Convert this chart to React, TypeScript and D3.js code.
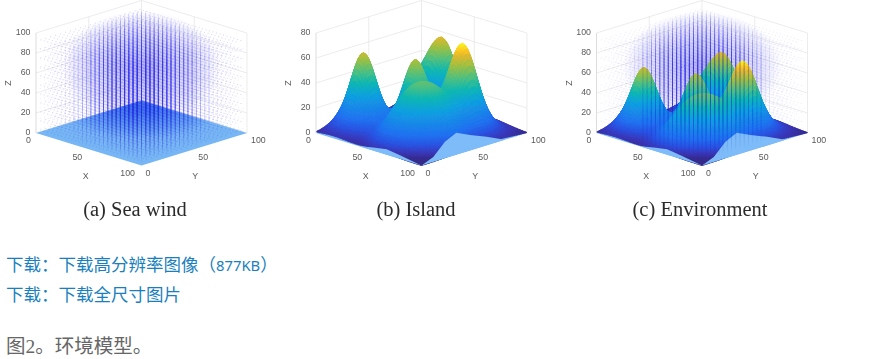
import React from "react";
import * as d3 from "d3";

const zTicksWind = [0, 20, 40, 60, 80, 100];
const zTicksIsland = [0, 20, 40, 60, 80];
const floorTicks = [0, 50, 100];
const captions = ["(a) Sea wind", "(b) Island", "(c) Environment"];
const linkLeads = ["下载：下载高分辨率图像（", "下载：下载全尺寸图片"];
const linkSize = ["877KB", ""];
const linkTail = ["）", ""];
const figureNote = "图2。环境模型。";

// APPROXIMATION: the source surface cannot be read cell by cell. It is modelled here
// as a sum of Gaussian hills whose positions, heights and spreads were estimated
// from panel (b); the surface heights are computed from these, not read directly.
const hillX = [14, 14, 43, 34, 68, 68, 58, 72, 20, 20];
const hillY = [31, 31, 51, 88, 71, 71, 28, 42, 22, 82];
const hillH = [46, 11, 50, 50, 58, 11, 33, 33, 4, 30];
const hillSX = [8, 15, 8, 9, 9, 17, 12, 12, 12, 10];
const hillSY = [8, 15, 8, 9, 9.5, 17, 12, 12, 12, 10];

const terrainAxis = d3.range(0, 100.01, 1.25);

// Bare sea patches in front of the island, floor coordinates
const seaRight = [[100, 0], [92.6, 18.6], [74.6, 47.6], [66, 67], [76, 70], [86.7, 75.1], [100, 79]];
const seaLeft = [[41, 0], [49.5, 4.8], [58.5, 8.5], [74.2, 5.4], [100, 0]];

// APPROXIMATION: individual wind vectors are unreadable in the source. This is a
// regular illustrative lattice; ring lengths and alphas only mimic its density,
// and the soft glow ellipses below stand in for the massed overlap of the arrows.
const windColumns = d3.range(2, 100, 4);
const windLevels = [4, 14, 24, 34, 44, 54, 64, 74, 84];
const windRingLength = [10, 10, 10, 9.5, 8.5, 7, 4.5, 2.5, 1.2, 0.8, 0.8];
const windRingAlpha = [0.14, 0.14, 0.13, 0.12, 0.12, 0.11, 0.11, 0.11, 0.11, 0.11, 0.11];
const dotX = d3.range(1.5, 100, 3.3);
const dotY = d3.range(3, 100, 4.7);
const dotLevels = [2, 11, 20, 29, 38, 47, 56, 65, 74, 83, 92];

const parulaZ = [0, 2, 6, 12, 28, 38, 46, 55, 62, 66, 70];
const parulaC = ["#352a87", "#3a35b5", "#2a50e0", "#2070f0", "#10a0e0", "#10b8b0", "#50c080", "#a0c040", "#e0b830", "#ffc820", "#f8f020"];
const parula = d3.scaleLinear<string>().domain(parulaZ).range(parulaC).clamp(true);

const height = (x: number, y: number) =>
  d3.sum(hillH, (h, i) => {
    const a = (x - hillX[i]) / hillSX[i];
    const b = (y - hillY[i]) / hillSY[i];
    return h * Math.exp(-0.5 * (a * a + b * b));
  });

type P = { id: string; left: number; zMax: number; zTicks: number[]; island: boolean; wind: boolean; caption: string; capX: number; windScale: number };
const panels: P[] = [
  { id: "a", left: 36, zMax: 100, zTicks: zTicksWind, island: false, wind: true, caption: captions[0], capX: 135, windScale: 1 },
  { id: "b", left: 316, zMax: 80, zTicks: zTicksIsland, island: true, wind: false, caption: captions[1], capX: 416, windScale: 0 },
  { id: "c", left: 596.5, zMax: 100, zTicks: zTicksWind, island: true, wind: true, caption: captions[2], capX: 700, windScale: 0.55 },
];

const DX = 105.5, DY = 32.5, Y0 = 133, ZH = 100;

function Panel({ p }: { p: P }) {
  const sx = d3.scaleLinear().domain([0, 200]).range([p.left, p.left + 2 * DX]);
  const sy = d3.scaleLinear().domain([-100, 100]).range([Y0 - DY, Y0 + DY]);
  const sz = d3.scaleLinear().domain([0, p.zMax]).range([0, ZH]);
  const pr = (x: number, y: number, z: number): [number, number] => [sx(x + y), sy(x - y) - sz(z)];
  const poly = (pts: [number, number][]) => d3.line()(pts) + "Z";
  const seg = (pts: [number, number][]) => d3.line()(pts) as string;
  const floor = poly([pr(0, 0, 0), pr(100, 0, 0), pr(100, 100, 0), pr(0, 100, 0)]);

  const grid: string[] = [];
  p.zTicks.forEach((z) => {
    if (z > 0) grid.push(seg([pr(0, 0, z), pr(0, 100, z), pr(100, 100, z)]));
  });
  grid.push(seg([pr(0, 50, 0), pr(0, 50, p.zMax)]));
  grid.push(seg([pr(50, 100, 0), pr(50, 100, p.zMax)]));
  grid.push(seg([pr(0, 100, 0), pr(0, 100, p.zMax)]));
  grid.push(seg([pr(100, 100, 0), pr(100, 100, p.zMax)]));
  grid.push(seg([pr(0, 100, 0), pr(0, 0, 0)]));
  grid.push(seg([pr(0, 100, 0), pr(100, 100, 0)]));

  const quads: { d: string; c: string; k: number }[] = [];
  if (p.island) {
    for (let i = 0; i < terrainAxis.length - 1; i++) {
      for (let j = 0; j < terrainAxis.length - 1; j++) {
        const [x0, x1] = [terrainAxis[i], terrainAxis[i + 1]];
        const [y0, y1] = [terrainAxis[j], terrainAxis[j + 1]];
        const zs = [height(x0, y0), height(x1, y0), height(x1, y1), height(x0, y1)];
        quads.push({
          d: poly([pr(x0, y0, zs[0]), pr(x1, y0, zs[1]), pr(x1, y1, zs[2]), pr(x0, y1, zs[3])]),
          c: parula(d3.mean(zs) as number),
          k: x0 - y0,
        });
      }
    }
    quads.sort((a, b) => a.k - b.k);
  }

  const ringOf = (x: number, y: number) =>
    Math.min(10, Math.floor(Math.hypot((x + y - 100) / 1.41, (x - y) / 3.2) / 6));

  const stems = (alphaScale: number, maxRing: number) =>
    windColumns.flatMap((x) =>
      windColumns.map((y) => {
        const ring = ringOf(x, y);
        if (ring > maxRing) return null;
        const d = windLevels.map((z) => seg([pr(x, y, z), pr(x, y, z + windRingLength[ring])])).join("");
        return <path key={`s${x}-${y}`} d={d} stroke="#2a2af0" strokeWidth={0.85} strokeOpacity={windRingAlpha[ring] * alphaScale} fill="none" />;
      })
    );

  const dots = (alphaScale: number) =>
    dotX.map((x) => {
      const d = dotY
        .flatMap((y) => dotLevels.map((z) => seg([pr(x, y, z), pr(x, y, z + 1.1)])))
        .join("");
      return <path key={`d${x}`} d={d} stroke="#2a22d8" strokeWidth={0.8} strokeOpacity={0.2 * alphaScale} fill="none" />;
    });

  const hazeCentre = pr(50, 50, 66);
  const backFloor = pr(25, 75, 0);

  return (
    <g fontFamily="'Liberation Sans', Arial, sans-serif" fontSize={8.8} fill="#5a5a5a">
      <defs>
        <radialGradient id={`haze${p.id}`}>
          <stop offset="0" stopColor="#2a22e0" stopOpacity={0.34} />
          <stop offset="0.6" stopColor="#2a22e0" stopOpacity={0.16} />
          <stop offset="1" stopColor="#2a22e0" stopOpacity={0} />
        </radialGradient>
        <radialGradient id={`sea${p.id}`}>
          <stop offset="0" stopColor="#1850e8" stopOpacity={0.6} />
          <stop offset="0.55" stopColor="#1c58e4" stopOpacity={0.32} />
          <stop offset="1" stopColor="#1c58e4" stopOpacity={0} />
        </radialGradient>
        <clipPath id={`floor${p.id}`}><path d={floor} /></clipPath>
      </defs>
      <g filter="url(#soft)">
        <path d={grid.join("")} fill="none" stroke="#e4e4e4" strokeWidth={0.7} />
        <path d={floor} fill="#77b6f4" />
        {p.wind && !p.island && (
          <g clipPath={`url(#floor${p.id})`}>
            <ellipse cx={backFloor[0]} cy={backFloor[1] - 8} rx={78} ry={30} fill={`url(#sea${p.id})`} />
          </g>
        )}
        {p.wind && <ellipse cx={hazeCentre[0]} cy={hazeCentre[1]} rx={80} ry={56} fill={`url(#haze${p.id})`} />}
        {p.wind && dots(p.windScale)}
        {p.wind && stems(p.windScale, 10)}
        {quads.map((q, i) => (
          <path key={i} d={q.d} fill={q.c} stroke={q.c} strokeWidth={0.9} />
        ))}
        {p.island && <path d={poly(seaRight.map(([x, y]) => pr(x, y, 0)))} fill="#7dbcf8" />}
        {p.island && <path d={poly(seaLeft.map(([x, y]) => pr(x, y, 0)))} fill="#7dbcf8" />}
        {p.wind && p.island && stems(0.4, 6)}
        <path d={seg([pr(0, 0, 0), pr(0, 0, p.zMax)])} fill="none" stroke="#cfcfcf" strokeWidth={0.7} />
      </g>
      <g filter="url(#softText)">
        {p.zTicks.map((z) => (
          <text key={z} x={p.left - 5.5} y={pr(0, 0, z)[1] - 0.5} textAnchor="end" dominantBaseline="middle">{z}</text>
        ))}
        {floorTicks.map((t) => (
          <text key={"x" + t} x={pr(t, 0, 0)[0] - (t ? 6.5 : 5)} y={pr(t, 0, 0)[1] + 8} textAnchor="end" dominantBaseline="middle">{t}</text>
        ))}
        {floorTicks.map((t) => (
          <text key={"y" + t} x={pr(100, t, 0)[0] + 4} y={pr(100, t, 0)[1] + 8} dominantBaseline="middle">{t}</text>
        ))}
        <text x={pr(50, 0, 0)[0] - 3} y={177} textAnchor="middle" dominantBaseline="middle">X</text>
        <text x={pr(100, 50, 0)[0] + 1} y={177} textAnchor="middle" dominantBaseline="middle">Y</text>
        <text transform={`translate(${p.left - 27},83) rotate(-90)`} textAnchor="middle" dominantBaseline="middle">Z</text>
        <text x={p.capX} y={216} textAnchor="middle" fontFamily="'Liberation Serif', serif" fontSize={20.5} fill="#2b2b2b">{p.caption}</text>
      </g>
    </g>
  );
}

export default function App() {
  return (
    <svg width={872} height={359} viewBox="0 0 872 359" style={{ position: "absolute", left: 0, top: 0, display: "block", background: "#fff" }}>
      <defs>
        <filter id="soft" x="-5%" y="-5%" width="110%" height="110%"><feGaussianBlur stdDeviation={0.45} /></filter>
        <filter id="softText" x="-5%" y="-5%" width="110%" height="110%"><feGaussianBlur stdDeviation={0.25} /></filter>
      </defs>
      {panels.map((p) => <Panel key={p.id} p={p} />)}
      <g fontFamily="'Noto Sans CJK SC', 'Noto Sans', sans-serif" fontSize={17.5} fill="#1b7fbd">
        {linkLeads.map((t, i) => (
          <text key={t} x={6} y={271 + i * 30}>
            {t}
            {linkSize[i] && <tspan fontSize={14.8} fontFamily="'Noto Sans', sans-serif">{linkSize[i]}</tspan>}
            {linkTail[i]}
          </text>
        ))}
      </g>
      <text x={6} y={353} fontFamily="'Liberation Serif', 'Noto Sans CJK SC', serif" fontSize={19.5} fill="#666">{figureNote}</text>
    </svg>
  );
}
